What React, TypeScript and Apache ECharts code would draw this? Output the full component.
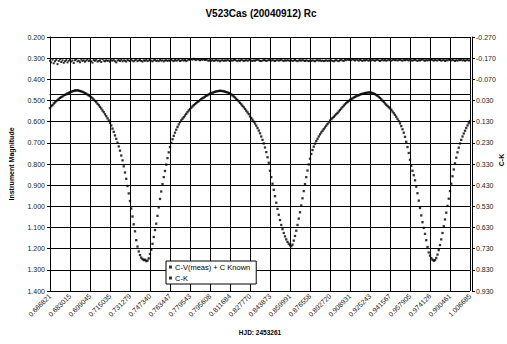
import React, { useEffect, useRef } from "react";
import * as echarts from "echarts";

const PER = 16; // observations between two labelled ticks

const tickLabels = [
  "0.666821", "0.683015", "0.699045", "0.715035", "0.731279", "0.747340",
  "0.763447", "0.779543", "0.795608", "0.811684", "0.827770", "0.843873",
  "0.859991", "0.876558", "0.892720", "0.908931", "0.925243", "0.941567",
  "0.957905", "0.974126", "0.990461", "1.006685",
];

const rightTicks = [-0.27, -0.17, -0.07, 0.03, 0.13, 0.23, 0.33, 0.43, 0.53, 0.63, 0.73, 0.83, 0.93];

// C-V(meas) + C Known (left axis)
const cvKnown = [
  0.536, 0.527, 0.522, 0.514, 0.509, 0.503, 0.498, 0.492, 0.488, 0.484, 0.481, 0.476, 0.473, 0.471, 0.466, 0.464,
  0.461, 0.459, 0.456, 0.455, 0.452, 0.453, 0.451, 0.454, 0.455, 0.457, 0.459, 0.462, 0.465, 0.468, 0.472, 0.476,
  0.480, 0.485, 0.490, 0.496, 0.502, 0.508, 0.515, 0.522, 0.530, 0.538, 0.547, 0.555, 0.565, 0.574, 0.584, 0.594,
  0.605, 0.618, 0.633, 0.648, 0.665, 0.681, 0.699, 0.717, 0.737, 0.760, 0.783, 0.811, 0.840, 0.870, 0.904, 0.939,
  0.975, 1.010, 1.048, 1.085, 1.118, 1.160, 1.190, 1.213, 1.230, 1.242, 1.249, 1.254, 1.252, 1.259, 1.256, 1.246,
  1.225, 1.205, 1.177, 1.145, 1.112, 1.082, 1.045, 1.005, 0.965, 0.930, 0.895, 0.862, 0.833, 0.803, 0.772, 0.745,
  0.720, 0.700, 0.683, 0.667, 0.652, 0.638, 0.625, 0.613, 0.602, 0.594, 0.586, 0.579, 0.571, 0.563, 0.555, 0.547,
  0.540, 0.534, 0.528, 0.522, 0.517, 0.512, 0.507, 0.503, 0.498, 0.494, 0.489, 0.486, 0.482, 0.478, 0.475, 0.471,
  0.468, 0.466, 0.463, 0.461, 0.459, 0.457, 0.456, 0.455, 0.454, 0.455, 0.455, 0.457, 0.458, 0.460, 0.462, 0.464,
  0.467, 0.471, 0.476, 0.481, 0.486, 0.492, 0.498, 0.504, 0.511, 0.518, 0.525, 0.532, 0.540, 0.548, 0.556, 0.564,
  0.575, 0.583, 0.591, 0.600, 0.609, 0.619, 0.630, 0.642, 0.655, 0.670, 0.686, 0.703, 0.722, 0.744, 0.768, 0.794,
  0.832, 0.862, 0.893, 0.922, 0.952, 0.983, 1.012, 1.040, 1.065, 1.088, 1.108, 1.126, 1.142, 1.156, 1.168, 1.177,
  1.184, 1.188, 1.181, 1.162, 1.140, 1.115, 1.088, 1.058, 1.028, 0.996, 0.962, 0.928, 0.895, 0.862, 0.831, 0.802,
  0.775, 0.753, 0.734, 0.718, 0.704, 0.692, 0.681, 0.670, 0.660, 0.651, 0.643, 0.635, 0.627, 0.619, 0.611, 0.603,
  0.595, 0.589, 0.583, 0.577, 0.571, 0.565, 0.559, 0.552, 0.545, 0.538, 0.531, 0.524, 0.518, 0.512, 0.507, 0.502,
  0.497, 0.493, 0.490, 0.486, 0.483, 0.480, 0.477, 0.475, 0.472, 0.470, 0.468, 0.467, 0.465, 0.464, 0.463, 0.462,
  0.462, 0.463, 0.465, 0.467, 0.470, 0.474, 0.478, 0.483, 0.488, 0.494, 0.501, 0.507, 0.514, 0.520, 0.526, 0.532,
  0.537, 0.544, 0.552, 0.560, 0.568, 0.577, 0.587, 0.597, 0.608, 0.621, 0.636, 0.652, 0.672, 0.695, 0.720, 0.748,
  0.780, 0.808, 0.832, 0.853, 0.877, 0.907, 0.938, 0.973, 1.008, 1.043, 1.075, 1.102, 1.130, 1.160, 1.192, 1.218,
  1.233, 1.245, 1.252, 1.257, 1.254, 1.244, 1.228, 1.207, 1.183, 1.156, 1.126, 1.094, 1.062, 1.030, 0.998, 0.964,
  0.928, 0.893, 0.858, 0.826, 0.797, 0.770, 0.745, 0.723, 0.703, 0.686, 0.670, 0.656, 0.643, 0.630, 0.618, 0.607,
  0.597,
];

// C-K (right axis)
const ck = [
  -0.158, -0.150, -0.163, -0.146, -0.155, -0.162, -0.142, -0.157, -0.165, -0.152, -0.160, -0.148, -0.156, -0.161, -0.150, -0.158,
  -0.162, -0.154, -0.159, -0.147, -0.160, -0.165, -0.155, -0.158, -0.151, -0.163, -0.157, -0.160, -0.153, -0.159, -0.164, -0.156,
  -0.160, -0.155, -0.149, -0.161, -0.158, -0.163, -0.154, -0.157, -0.160, -0.152, -0.166, -0.158, -0.155, -0.161, -0.157, -0.159,
  -0.153, -0.160, -0.158, -0.162, -0.156, -0.150, -0.159, -0.161, -0.157, -0.163, -0.155, -0.160, -0.158, -0.154, -0.161, -0.159,
  -0.157, -0.162, -0.158, -0.155, -0.160, -0.163, -0.156, -0.159, -0.161, -0.157, -0.154, -0.160, -0.158, -0.162, -0.156, -0.159,
  -0.161, -0.158, -0.155, -0.160, -0.163, -0.157, -0.159, -0.156, -0.162, -0.158, -0.160, -0.155, -0.159, -0.161, -0.157, -0.160,
  -0.158, -0.162, -0.159, -0.156, -0.161, -0.158, -0.160, -0.163, -0.157, -0.159, -0.162, -0.158, -0.161, -0.156, -0.160, -0.164,
  -0.162, -0.165, -0.163, -0.167, -0.164, -0.161, -0.166, -0.163, -0.160, -0.164, -0.162, -0.165, -0.161, -0.163, -0.160, -0.158,
  -0.160, -0.158, -0.161, -0.157, -0.159, -0.162, -0.158, -0.160, -0.156, -0.159, -0.161, -0.157, -0.160, -0.158, -0.162, -0.159,
  -0.157, -0.160, -0.158, -0.161, -0.163, -0.159, -0.156, -0.160, -0.158, -0.162, -0.160, -0.157, -0.159, -0.161, -0.158, -0.160,
  -0.162, -0.159, -0.157, -0.160, -0.158, -0.161, -0.163, -0.160, -0.158, -0.156, -0.159, -0.161, -0.160, -0.157, -0.159, -0.162,
  -0.160, -0.158, -0.161, -0.159, -0.157, -0.160, -0.162, -0.158, -0.160, -0.163, -0.159, -0.157, -0.160, -0.158, -0.161, -0.159,
  -0.158, -0.160, -0.157, -0.159, -0.161, -0.158, -0.156, -0.159, -0.160, -0.158, -0.161, -0.159, -0.157, -0.160, -0.158, -0.156,
  -0.159, -0.157, -0.160, -0.158, -0.156, -0.159, -0.161, -0.158, -0.160, -0.157, -0.159, -0.156, -0.158, -0.160, -0.157, -0.159,
  -0.158, -0.160, -0.157, -0.155, -0.159, -0.161, -0.158, -0.156, -0.160, -0.163, -0.159, -0.157, -0.162, -0.160, -0.164, -0.161,
  -0.163, -0.160, -0.165, -0.162, -0.159, -0.164, -0.161, -0.158, -0.162, -0.160, -0.157, -0.161, -0.159, -0.162, -0.160, -0.158,
  -0.161, -0.159, -0.162, -0.160, -0.158, -0.161, -0.163, -0.160, -0.157, -0.160, -0.162, -0.159, -0.161, -0.158, -0.160, -0.163,
  -0.160, -0.158, -0.161, -0.163, -0.160, -0.162, -0.159, -0.161, -0.164, -0.160, -0.158, -0.162, -0.160, -0.163, -0.161, -0.159,
  -0.162, -0.160, -0.158, -0.161, -0.163, -0.160, -0.157, -0.161, -0.159, -0.162, -0.164, -0.160, -0.158, -0.161, -0.159, -0.162,
  -0.160, -0.163, -0.161, -0.158, -0.162, -0.160, -0.159, -0.163, -0.161, -0.158, -0.160, -0.162, -0.157, -0.161, -0.159, -0.163,
  -0.161, -0.159, -0.162, -0.160, -0.157, -0.161, -0.158, -0.162, -0.160, -0.163, -0.159, -0.161, -0.158, -0.160, -0.162, -0.159,
  -0.160,
];

const FONT = "'Liberation Sans', Arial, sans-serif";

export default function App() {
  const ref = useRef<HTMLDivElement>(null);

  useEffect(() => {
    if (!ref.current) return;
    const chart = echarts.init(ref.current, undefined, { renderer: "svg" });
    const cats = cvKnown.map((_, i) => String(i));
    chart.setOption({
      animation: false,
      backgroundColor: "#fff",
      textStyle: { fontFamily: FONT },
      title: {
        text: "V523Cas (20040912) Rc",
        left: 256,
        textAlign: "center",
        top: 3,
        textStyle: { fontSize: 10, fontWeight: "bold", color: "#000", fontFamily: FONT },
      },
      graphic: [
        {
          type: "text",
          x: 501,
          y: 160,
          rotation: Math.PI / 2,
          style: {
            text: "C-K",
            fontSize: 7,
            fontWeight: "bold",
            fontFamily: FONT,
            fill: "#000",
            align: "center",
            verticalAlign: "middle",
          },
        },
      ],
      legend: {
        orient: "vertical",
        left: 166,
        top: 261,
        backgroundColor: "#fff",
        borderColor: "#000",
        borderWidth: 1,
        borderRadius: 0,
        padding: [2, 6, 2, 3],
        itemGap: 3,
        itemWidth: 3,
        itemHeight: 3,
        icon: "rect",
        textStyle: { fontSize: 7.5, color: "#000", fontFamily: FONT, padding: [0, 0, 0, -2] },
        data: ["C-V(meas) + C Known", "C-K"],
      },
      grid: { left: 49, right: 37, top: 37, bottom: 53, containLabel: false },
      xAxis: {
        type: "category",
        data: cats,
        boundaryGap: false,
        name: "HJD: 2453261",
        nameLocation: "middle",
        nameGap: 38,
        nameTextStyle: { fontSize: 6.5, fontWeight: "bold", color: "#000", fontFamily: FONT },
        axisLine: { show: true, lineStyle: { color: "#000", width: 1 } },
        axisTick: { show: true, interval: PER - 1, length: 3, lineStyle: { color: "#000" } },
        axisLabel: {
          interval: PER - 1,
          rotate: 45,
          fontSize: 7,
          color: "#222",
          margin: 4,
          fontFamily: FONT,
          formatter: (_v: string, idx: number) => (idx % PER === 0 ? tickLabels[idx / PER] : ""),
        },
        splitLine: { show: true, interval: PER - 1, lineStyle: { color: "#000", width: 1 } },
      },
      yAxis: [
        {
          type: "value",
          min: 0.2,
          max: 1.4,
          interval: 0.1,
          inverse: true,
          name: "Instrument Magnitude",
          nameLocation: "middle",
          nameGap: 35,
          nameTextStyle: { fontSize: 7, fontWeight: "bold", color: "#000", fontFamily: FONT },
          axisLine: { show: true, lineStyle: { color: "#000", width: 1 } },
          axisTick: { show: true, length: 3, lineStyle: { color: "#000" } },
          axisLabel: {
            fontSize: 7,
            color: "#222",
            margin: 5,
            fontFamily: FONT,
            formatter: (v: number) => v.toFixed(3),
          },
          splitLine: { show: true, lineStyle: { color: "#000", width: 1 } },
        },
        {
          type: "value",
          min: -0.27,
          max: 0.93,
          inverse: true,
          position: "right",
          offset: 2,
          axisLine: { show: true, lineStyle: { color: "#000", width: 1 } },
          axisTick: { show: true, length: 3, customValues: rightTicks, lineStyle: { color: "#000" } },
          axisLabel: {
            customValues: rightTicks,
            fontSize: 7,
            color: "#222",
            margin: 4,
            fontFamily: FONT,
            formatter: (v: number) => v.toFixed(3),
          },
          splitLine: { show: false },
        },
      ],
      series: [
        {
          name: "C-V(meas) + C Known",
          type: "scatter",
          yAxisIndex: 0,
          symbol: "rect",
          symbolSize: 2.3,
          itemStyle: { color: "#000" },
          data: cvKnown,
        },
        {
          name: "C-K",
          type: "scatter",
          yAxisIndex: 1,
          symbol: "rect",
          symbolSize: 2,
          itemStyle: { color: "#000" },
          data: ck,
        },
      ],
    });
    return () => chart.dispose();
  }, []);

  return (
    <div
      ref={ref}
      style={{ position: "fixed", left: 0, top: 0, width: 507, height: 344 }}
    />
  );
}
